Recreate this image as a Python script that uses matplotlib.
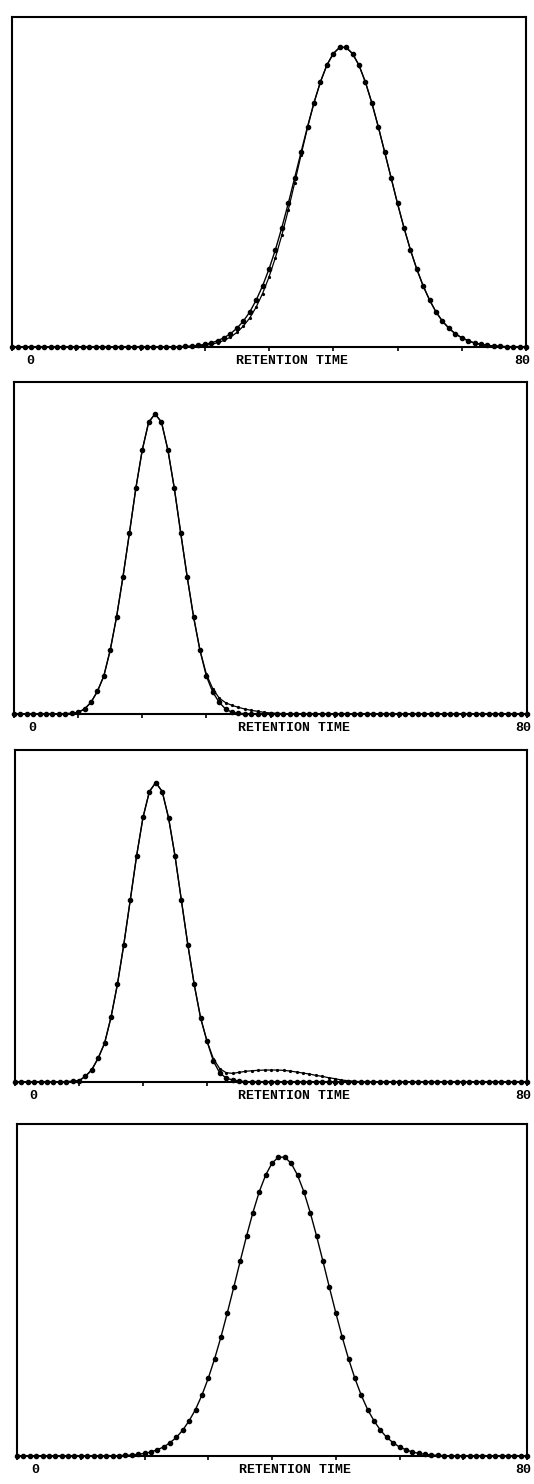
import matplotlib.pyplot as plt

# retention time axis, one sample per minute
time_min = list(range(0, 81))

# detector response, % of full scale; "obs" = measured points, "fit" = model trace
p1_obs = [0, 0, 0, 0, 0, 0, 0, 0, 0, 0,
          0, 0, 0, 0, 0, 0, 0, 0, 0, 0,
          0, 0, 0, 0, 0, 0.1, 0.1, 0.2, 0.3, 0.5,
          0.8, 1.2, 1.9, 2.8, 4.0, 5.7, 7.8, 10.6, 14.2, 18.5,
          23.6, 29.5, 36.2, 43.5, 51.3, 59.1, 66.8, 74.0, 80.3, 85.4,
          88.9, 90.8, 90.8, 88.9, 85.4, 80.3, 74.0, 66.8, 59.1, 51.3,
          43.5, 36.2, 29.5, 23.6, 18.5, 14.2, 10.6, 7.8, 5.7, 4.0,
          2.8, 1.9, 1.2, 0.8, 0.5, 0.3, 0.2, 0.1, 0.1, 0,
          0]
p1_fit = [0, 0, 0, 0, 0, 0, 0, 0, 0, 0,
          0, 0, 0, 0, 0, 0, 0, 0, 0, 0,
          0, 0, 0, 0, 0, 0, 0, 0.1, 0.2, 0.3,
          0.5, 0.8, 1.3, 2.0, 3.0, 4.4, 6.3, 8.8, 12.1, 16.2,
          21.2, 27.1, 33.9, 41.5, 49.8, 58.3, 66.5, 74.0, 80.3, 85.4,
          88.9, 90.8, 90.8, 88.9, 85.4, 80.3, 74.0, 66.8, 59.1, 51.3,
          43.5, 36.2, 29.5, 23.6, 18.5, 14.2, 10.6, 7.8, 5.7, 4.0,
          2.8, 1.9, 1.2, 0.8, 0.5, 0.3, 0.2, 0.1, 0.1, 0,
          0]

p2_obs = [0, 0, 0, 0, 0, 0, 0, 0, 0.1, 0.2,
          0.5, 1.5, 3.5, 6.8, 11.4, 19.2, 29.3, 41.4, 54.5, 68.0,
          79.5, 87.9, 90.4, 87.9, 79.5, 68.0, 54.5, 41.4, 29.3, 19.2,
          11.4, 6.6, 3.5, 1.5, 0.5, 0.2, 0.1, 0, 0, 0,
          0, 0, 0, 0, 0, 0, 0, 0, 0, 0,
          0, 0, 0, 0, 0, 0, 0, 0, 0, 0,
          0, 0, 0, 0, 0, 0, 0, 0, 0, 0,
          0, 0, 0, 0, 0, 0, 0, 0, 0, 0,
          0]
p2_fit = [0, 0, 0, 0, 0, 0, 0, 0, 0.1, 0.2,
          0.5, 1.5, 3.5, 6.8, 11.4, 19.2, 29.3, 41.4, 54.5, 68.0,
          79.5, 87.9, 90.4, 87.9, 79.5, 68.0, 54.5, 41.4, 29.3, 19.2,
          12.0, 7.6, 4.8, 3.4, 2.6, 2.0, 1.5, 1.1, 0.8, 0.5,
          0.3, 0.2, 0.1, 0, 0, 0, 0, 0, 0, 0,
          0, 0, 0, 0, 0, 0, 0, 0, 0, 0,
          0, 0, 0, 0, 0, 0, 0, 0, 0, 0,
          0, 0, 0, 0, 0, 0, 0, 0, 0, 0,
          0]

p3_obs = [0, 0, 0, 0, 0, 0, 0, 0, 0.1, 0.2,
          0.4, 1.7, 3.7, 7.2, 11.7, 19.5, 29.4, 41.4, 54.7, 68.1,
          79.7, 87.5, 90.2, 87.5, 79.5, 68.1, 54.7, 41.4, 29.4, 19.3,
          12.3, 6.3, 2.7, 1.2, 0.6, 0.3, 0.1, 0.1, 0.1, 0.1,
          0, 0, 0, 0, 0, 0, 0, 0, 0, 0,
          0, 0, 0, 0, 0, 0, 0, 0, 0, 0,
          0, 0, 0, 0, 0, 0, 0, 0, 0, 0,
          0, 0, 0, 0, 0, 0, 0, 0, 0, 0,
          0]
p3_fit = [0, 0, 0, 0, 0, 0, 0, 0, 0.1, 0.2,
          0.4, 1.7, 3.7, 7.2, 11.7, 19.5, 29.4, 41.4, 54.7, 68.1,
          79.7, 87.5, 90.2, 87.5, 79.5, 68.1, 54.7, 41.4, 29.4, 19.3,
          12.3, 7.0, 4.0, 2.8, 2.6, 2.9, 3.2, 3.4, 3.5, 3.6,
          3.6, 3.6, 3.5, 3.3, 3.0, 2.7, 2.4, 2.0, 1.7, 1.3,
          1.0, 0.6, 0.4, 0.2, 0.1, 0, 0, 0, 0, 0,
          0, 0, 0, 0, 0, 0, 0, 0, 0, 0,
          0, 0, 0, 0, 0, 0, 0, 0, 0, 0,
          0]

p4_obs = [0, 0, 0, 0, 0, 0, 0, 0, 0, 0,
          0, 0, 0, 0, 0, 0, 0.1, 0.2, 0.3, 0.5,
          0.8, 1.2, 1.9, 2.7, 4.0, 5.6, 7.8, 10.6, 14.0, 18.3,
          23.4, 29.3, 35.9, 43.2, 50.8, 58.6, 66.2, 73.3, 79.6, 84.6,
          88.2, 90.0, 90.0, 88.2, 84.6, 79.6, 73.3, 66.2, 58.6, 50.8,
          43.2, 35.9, 29.3, 23.4, 18.3, 14.0, 10.6, 7.8, 5.6, 4.0,
          2.7, 1.9, 1.2, 0.8, 0.5, 0.3, 0.2, 0.1, 0, 0,
          0, 0, 0, 0, 0, 0, 0, 0, 0, 0,
          0]

W, H = 534, 1484
fig = plt.figure(figsize=(W / 100, H / 100), dpi=100)

# frame boxes in pixels: left, top, right, bottom
boxes = [(12, 17, 526, 347),
         (14, 382, 527, 714),
         (15, 750, 527, 1082),
         (17, 1124, 527, 1456)]
series = [(p1_obs, p1_fit), (p2_obs, p2_fit), (p3_obs, p3_fit), (p4_obs, None)]

lab_font = dict(family='Liberation Mono', weight='bold', size=9.5, color='black')

for (l, t, r, b), (obs, fit) in zip(boxes, series):
    ax = fig.add_axes([l / W, 1 - b / H, (r - l) / W, (b - t) / H])
    if fit is not None:
        ax.plot(time_min, fit, color='black', lw=0.9, marker='o', ms=1.3,
                clip_on=False, zorder=2)
    ax.plot(time_min, obs, color='black', lw=1.0, marker='o', ms=3.0,
            clip_on=False, zorder=3)
    ax.set_xlim(0, 80)
    ax.set_ylim(0, 100)
    for sp in ax.spines.values():
        sp.set_linewidth(1.5)
    ax.set_xticks(range(0, 81, 10))
    ax.tick_params(axis='x', direction='out', length=3, width=1.2, labelbottom=False)
    ax.set_yticks([])

    ax.annotate('0', xy=(0, 0), xycoords=('data', 'axes fraction'),
                xytext=(13, -10), textcoords='offset points',
                ha='center', va='center', **lab_font)
    ax.annotate('80', xy=(80, 0), xycoords=('data', 'axes fraction'),
                xytext=(-3, -10), textcoords='offset points',
                ha='center', va='center', **lab_font)
    ax.annotate('RETENTION TIME', xy=(43.6, 0), xycoords=('data', 'axes fraction'),
                xytext=(0, -10), textcoords='offset points',
                ha='center', va='center', **lab_font)

fig.savefig('out.png', dpi=100, facecolor='white')
